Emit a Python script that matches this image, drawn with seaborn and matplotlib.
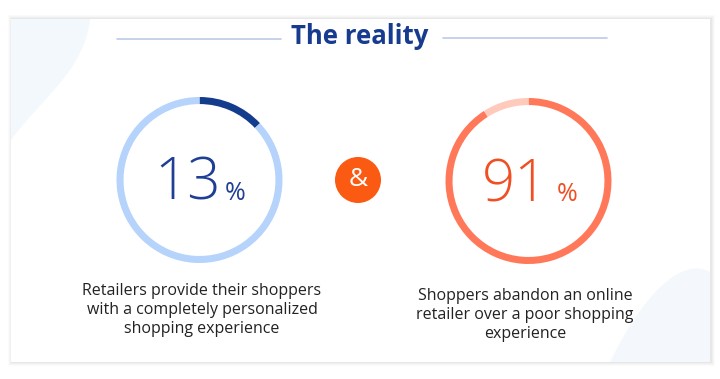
import matplotlib.pyplot as plt
import matplotlib.patches as mpatches
from matplotlib.path import Path
import seaborn as sns

# data
titulo = "The reality"
valores_esq = [13, 87]
valores_dir = [91, 9]
rotulo_esq = "13"
rotulo_dir = "91"
texto_esq = "Retailers provide their shoppers\nwith a completely personalized\nshopping experience"
texto_dir = "Shoppers abandon an online\nretailer over a poor shopping\nexperience"

sns.set_theme(style="white")
plt.rcParams['font.family'] = ['Open Sans', 'DejaVu Sans']

W, H = 720, 379
fig = plt.figure(figsize=(W / 100, H / 100), dpi=100)
fig.patch.set_facecolor("white")

# fundo em coordenadas de pixel
base = fig.add_axes([0, 0, 1, 1])
base.set_xlim(0, W)
base.set_ylim(H, 0)
base.axis("off")

# sombra suave + cartão
x0, y0, x1, y1 = 11, 19, 710, 362
for i, a in enumerate([0.04, 0.05, 0.07, 0.09]):
    d = 4 - i
    base.add_patch(mpatches.Rectangle((x0 - d + 0.5, y0 - d), (x1 - x0) + 2 * d, (y1 - y0) + 2 * d,
                                      facecolor="#9a9a9a", edgecolor="none", alpha=a, zorder=0))
base.add_patch(mpatches.Rectangle((x0, y0), x1 - x0, y1 - y0, facecolor="white", edgecolor="none", zorder=1))

# formas decorativas suaves
blob1 = Path([(x0, y0), (90, y0), (85, 70), (40, 100), (x0, 140), (x0, y0)],
             [Path.MOVETO, Path.LINETO, Path.CURVE4, Path.CURVE4, Path.CURVE4, Path.CLOSEPOLY])
base.add_patch(mpatches.PathPatch(blob1, facecolor="#f3f8fd", edgecolor="none", zorder=1))
blob2 = Path([(610, y1), (640, 300), (680, 255), (x1, 272), (x1, y1), (610, y1)],
             [Path.MOVETO, Path.CURVE4, Path.CURVE4, Path.CURVE4, Path.LINETO, Path.CLOSEPOLY])
base.add_patch(mpatches.PathPatch(blob2, facecolor="#f4f8fd", edgecolor="none", zorder=1))

# título
base.text(360, 37, titulo, ha="center", va="center", fontsize=18.5, fontweight="bold", color="#173b8f", zorder=3)
base.plot([117, 281], [39, 39], color="#bccbe8", lw=1.2, zorder=3)
base.plot([443, 607], [38, 38], color="#bccbe8", lw=1.2, zorder=3)


def anel(cx, cy, r, valores, cores):
    ax = fig.add_axes([(cx - r) / W, 1 - (cy + r) / H, 2 * r / W, 2 * r / H])
    ax.pie(valores, colors=cores, startangle=90, counterclock=False,
           wedgeprops=dict(width=0.085, edgecolor="none"))
    ax.set_xlim(-1, 1)
    ax.set_ylim(-1, 1)
    ax.set_aspect("equal")
    ax.axis("off")
    return ax


anel(199.5, 180, 83, valores_esq, ["#143c8c", "#b5d3fb"])
anel(528.5, 181, 83, valores_dir, ["#ff7859", "#ffc9bc"])

# números
base.text(221, 200, rotulo_esq, ha="right", va="baseline", fontsize=42, fontweight="light", color="#1f3f95", zorder=3)
base.text(225, 200, "%", ha="left", va="baseline", fontsize=18, color="#1f3f95", zorder=3)
base.text(548, 201, rotulo_dir, ha="right", va="baseline", fontsize=42, fontweight="light", color="#f04e23", zorder=3)
base.text(557, 201, "%", ha="left", va="baseline", fontsize=18, color="#f04e23", zorder=3)

# círculo "&"
base.add_patch(mpatches.Circle((358, 180), 23, facecolor="#fb5a12", edgecolor="none", zorder=3))
base.text(358, 180, "&", ha="center", va="center", fontsize=19, color="white", zorder=4)

# legendas
base.text(202, 310, texto_esq, ha="center", va="center", fontsize=11.5, color="#222222",
          linespacing=1.22, zorder=3)
base.text(525, 315, texto_dir, ha="center", va="center", fontsize=11.5, color="#222222",
          linespacing=1.22, zorder=3)

fig.savefig("out.png", dpi=100)
